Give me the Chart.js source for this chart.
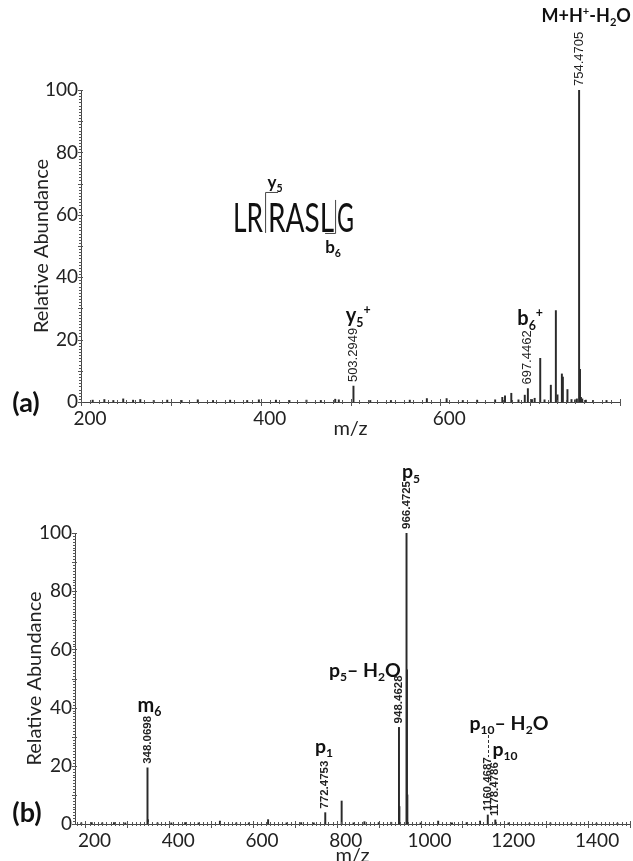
<!DOCTYPE html>
<html><head><meta charset="utf-8">
<script src="https://cdn.jsdelivr.net/npm/chart.js@4.4.0/dist/chart.umd.min.js"></script>
<style>
html,body{margin:0;padding:0;background:#fff;overflow:hidden;width:633px;height:861px;}
#ca{position:absolute;left:0;top:0;}
#cb{position:absolute;left:0;top:430px;}
</style></head><body>
<canvas id="ca" width="633" height="440"></canvas>
<canvas id="cb" width="633" height="445"></canvas>
<script>
// ---------- Panel (a) data ----------
const mzA = [213,226,236,247,258,266,281,296,312,330,347,366,385,398,417,432,451,467,483,487,503.2949,522,545,566,585,607,625,641,661,669,672,679,687,694,697.4462,702,705,711.2,716,723,728.6,730.4,735.3,736.4,741.5,746,750,752,754.4705,755.47,756.5,758,762,770,785];
const abA = [0.6,0.8,0.5,1.0,0.6,0.8,0.5,0.6,0.5,0.7,0.5,0.6,0.5,0.7,0.6,0.5,0.6,0.5,0.9,0.7,5.1,0.5,0.5,0.6,1.1,1.1,0.5,0.6,0.7,1.5,2.0,2.8,0.7,2.2,4.3,0.8,1.2,14,0.7,5.4,29.3,2.3,9,8,4,0.8,0.7,1.0,100,10.5,1.5,1.0,0.6,0.5,0.5];
const xTicksA = [200,400,600];
const peakLabelsA = [
  {mz:754.4705, ab:100, text:'754.4705'},
  {mz:503.2949, ab:5.1, text:'503.2949'},
  {mz:697.4462, ab:4.3, text:'697.4462'}
];
const annA = [
  {x:762.4, y:121.8, size:18, segs:[['M+H',''],['+','sup'],['-H',''],['2','sub'],['O','']]},
  {x:508.5, y:25.6, size:20, segs:[['y',''],['5','sub'],['+','sup']]},
  {x:700, y:24.6, size:20, segs:[['b',''],['6','sub'],['+','sup']]}
];

// ---------- Panel (b) data ----------
const mzB = [190,215,240,268,295,348.0698,349.07,372,405,438,470,521,560,590,636,680,715,745,772.4753,811.6,840,866,900,930,948.4628,949.46,966.4725,967.47,968.47,1000,1042,1075,1110,1142,1160.4687,1178.4786,1210,1260,1310,1360,1420,1470];
const abB = [0.4,0.5,0.4,0.5,0.4,19.3,1.5,0.4,0.4,0.5,0.4,1.0,0.4,0.4,1.5,0.4,0.5,0.4,3.9,7.9,0.4,0.8,0.5,0.6,33.2,6,100,53,10,0.4,1.0,0.4,0.5,1.0,3.1,1.4,0.4,0.3,0.4,0.3,0.3,0.3];
const xTicksB = [200,400,600,800,1000,1200,1400];
const peakLabelsB = [
  {mz:348.0698, ab:19.3, text:'348.0698'},
  {mz:772.4753, ab:3.9, text:'772.4753'},
  {mz:948.4628, ab:33.2, text:'948.4628'},
  {mz:966.4725, ab:100, text:'966.4725'},
  {mz:1160.4687, ab:3.1, text:'1160.4687'},
  {mz:1178.4786, ab:1.4, text:'1178.4786'}
];
const annB = [
  {x:977, y:118.8, size:19.5, segs:[['p',''],['5','sub']]},
  {x:867, y:50.5, size:19.5, segs:[['p',''],['5','sub'],['\u2013 H',''],['2','sub'],['O','']]},
  {x:1211, y:32.3, size:19.5, segs:[['p',''],['10','sub'],['\u2013 H',''],['2','sub'],['O','']]},
  {x:1201.5, y:23.4, size:19.5, segs:[['p',''],['10','sub']]},
  {x:769.4, y:24.4, size:19.5, segs:[['p',''],['1','sub']]},
  {x:352.8, y:38.5, size:20, segs:[['m',''],['6','sub']]}
];
const dashB = {mz:1160.4687, from:32.3, to:23.0};

const yTicks = [0,20,40,60,80,100];
const peptide = {x:369.3, y:54.5};

const FAM = 'Lato, "Open Sans", sans-serif';

function drawRich(ctx, segs, cx, base, size){
  let total = 0;
  const ws = segs.map(([t,k])=>{
    ctx.font = '700 ' + (k ? size*0.62 : size) + 'px ' + FAM;
    const w = ctx.measureText(t).width; total += w; return w;
  });
  let x = cx - total/2;
  ctx.textAlign = 'left'; ctx.textBaseline = 'alphabetic';
  segs.forEach(([t,k],i)=>{
    ctx.font = '700 ' + (k ? size*0.62 : size) + 'px ' + FAM;
    const dy = k==='sub' ? size*0.22 : (k==='sup' ? -size*0.40 : 0);
    ctx.fillText(t, x, base+dy);
    x += ws[i];
  });
}

function decor(cfg){
  return {
    id:'decor',
    afterDraw(chart){
      const ctx = chart.ctx, xs = chart.scales.x, ys = chart.scales.y;
      const ca = chart.chartArea;
      ctx.save();
      // minor ticks
      ctx.strokeStyle = '#555'; ctx.lineWidth = 1;
      ctx.beginPath();
      for (let v = Math.ceil(xs.min/10)*10; v <= xs.max; v += 10){
        const px = Math.round(xs.getPixelForValue(v))+0.5;
        const big = v % 100 === 0;
        ctx.moveTo(px, ca.bottom - (big?3:2)); ctx.lineTo(px, ca.bottom + (big?4:2));
      }
      for (let v = 0; v <= 100; v += 1){
        const py = Math.round(ys.getPixelForValue(v))+0.5;
        const big = v % 10 === 0;
        ctx.moveTo(ca.left - (big?3:2), py); ctx.lineTo(ca.left + (big?2:1), py);
      }
      ctx.stroke();
      // peak value labels
      ctx.fillStyle = '#222';
      ctx.font = cfg.pkFont;
      ctx.textAlign = 'left'; ctx.textBaseline = 'middle';
      cfg.peakLabels.forEach(p=>{
        const px = xs.getPixelForValue(p.mz), py = ys.getPixelForValue(p.ab);
        ctx.save(); ctx.translate(px, py - 4); ctx.rotate(-Math.PI/2);
        ctx.fillText(p.text, 0, 0); ctx.restore();
      });
      // annotations
      ctx.fillStyle = '#111';
      cfg.ann.forEach(a=>{
        drawRich(ctx, a.segs, xs.getPixelForValue(a.x), ys.getPixelForValue(a.y), a.size);
      });
      // dashed connector
      if (cfg.dash){
        const d = cfg.dash, px = Math.round(xs.getPixelForValue(d.mz))+0.5;
        ctx.strokeStyle = '#333'; ctx.setLineDash([3,2]);
        ctx.beginPath(); ctx.moveTo(px, ys.getPixelForValue(d.from)); ctx.lineTo(px, ys.getPixelForValue(d.to)); ctx.stroke();
        ctx.setLineDash([]);
      }
      // peptide sequence with fragment brackets
      if (cfg.pep){
        const ax = xs.getPixelForValue(cfg.pep.x), ay = ys.getPixelForValue(cfg.pep.y);
        ctx.fillStyle = '#111'; ctx.textAlign = 'left'; ctx.textBaseline = 'alphabetic';
        ctx.font = '400 41px ' + FAM;
        ctx.fillText('LR', ax, ay, 30);
        ctx.fillText('RASL', ax+35, ay, 66);
        ctx.fillText('G', ax+104, ay, 17);
        ctx.strokeStyle = '#444'; ctx.lineWidth = 1;
        ctx.beginPath();
        ctx.moveTo(ax+32.5, ay+1); ctx.lineTo(ax+32.5, ay-39.5); ctx.lineTo(ax+45, ay-39.5);
        ctx.moveTo(ax+102.5, ay-32); ctx.lineTo(ax+102.5, ay+1.5); ctx.lineTo(ax+92, ay+1.5);
        ctx.stroke();
        drawRich(ctx, [['y',''],['5','sub']], ax+42, ay-44, 17);
        drawRich(ctx, [['b',''],['6','sub']], ax+100, ay+21, 17);
      }
      // panel label
      ctx.fillStyle = '#111'; ctx.font = '700 27px ' + FAM;
      ctx.textAlign = 'center'; ctx.textBaseline = 'middle';
      ctx.fillText(cfg.panel, ca.left + cfg.panelDX, ca.bottom + cfg.panelDY);
      ctx.restore();
    }
  };
}

function makeChart(id, cfg){
  return new Chart(document.getElementById(id), {
    type:'bar',
    data:{datasets:[{
      data: cfg.mz.map((m,i)=>({x:m, y:cfg.ab[i]})),
      backgroundColor:'#2a2a2a', borderWidth:0, barThickness:1.3,
      categoryPercentage:1, barPercentage:1
    }]},
    options:{
      responsive:false, animation:false, devicePixelRatio:1,
      layout:{padding:cfg.pad},
      plugins:{legend:{display:false}, tooltip:{enabled:false}},
      scales:{
        x:{
          type:'linear', min:cfg.xmin, max:cfg.xmax, offset:false,
          afterBuildTicks:s=>{ s.ticks = cfg.xticks.map(v=>({value:v})); },
          afterFit:s=>{ s.height = cfg.xh; },
          grid:{display:false, drawTicks:false},
          border:{display:true, color:'#444', width:1},
          ticks:{font:{family:FAM, size:19}, color:'#222', padding:cfg.xpad, labelOffset:9, maxRotation:0, autoSkip:false, callback:v=>String(v)},
          title:{display:true, text:'m/z', font:{family:FAM, size:20}, color:'#222', padding:{top:0, bottom:cfg.xtp}}
        },
        y:{
          min:0, max:100,
          afterBuildTicks:s=>{ s.ticks = yTicks.map(v=>({value:v})); },
          afterFit:s=>{ s.width = cfg.yw; },
          grid:{display:false, drawTicks:false},
          border:{display:true, color:'#444', width:1},
          ticks:{font:{family:FAM, size:19}, color:'#222', padding:3, callback:v=>String(v)},
          title:{display:true, text:'Relative Abundance', font:{family:FAM, size:20}, color:'#222', padding:{top:cfg.ytp, bottom:0}}
        }
      }
    },
    plugins:[decor(cfg)]
  });
}

makeChart('ca', {
  mz:mzA, ab:abA, xmin:200, xmax:800, xticks:xTicksA,
  pad:{left:0, right:13, top:90, bottom:0}, xh:38, yw:81, xpad:5, xtp:-1, ytp:30,
  peakLabels:peakLabelsA, ann:annA, pkFont:'400 13px "Liberation Sans", Arial, sans-serif',
  pep:peptide, panel:'(a)', panelDX:-55, panelDY:1
});
makeChart('cb', {
  mz:mzB, ab:abB, xmin:175, xmax:1500, xticks:xTicksB,
  pad:{left:0, right:3, top:103, bottom:0}, xh:51, yw:75, xpad:5, xtp:7, ytp:23,
  peakLabels:peakLabelsB, ann:annB, pkFont:'700 11.5px "Liberation Sans", Arial, sans-serif',
  dash:dashB, panel:'(b)', panelDX:-48, panelDY:-11
});
</script>
</body></html>
